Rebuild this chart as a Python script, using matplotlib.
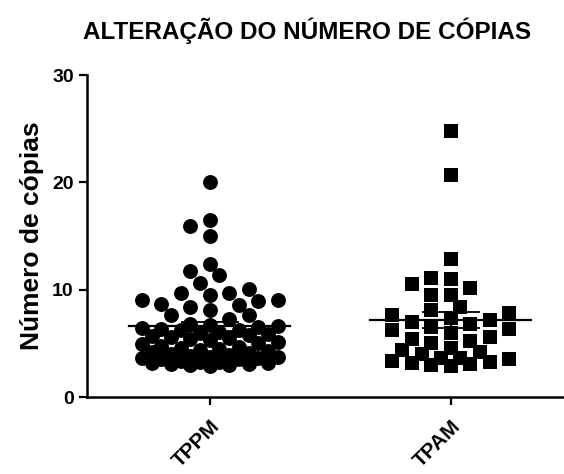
import matplotlib
matplotlib.use("Agg")
import matplotlib.pyplot as plt
import numpy as np

plt.rcParams['font.family'] = ['Liberation Sans', 'DejaVu Sans']
plt.rcParams['font.weight'] = 'bold'

groups = ["TPPM", "TPAM"]

# valores (número de cópias)
tppm = [20.0, 16.5, 15.9, 15.0, 12.4, 11.7, 11.4, 10.6, 10.1, 9.7, 9.7, 9.5,
        9.0, 9.0, 8.9, 8.7, 8.6, 8.4, 8.1, 7.6, 7.6, 7.3, 6.6, 6.4, 5.3,
        6.0, 6.1, 6.2, 6.2, 6.3, 6.5, 6.7, 6.8,
        5.4, 5.5, 5.6, 5.7, 5.8, 5.9,
        4.6, 4.7, 4.8, 4.9, 5.0, 5.1,
        3.9, 4.0, 4.1, 4.2, 4.3, 4.4, 4.5,
        3.4, 3.5, 3.5, 3.6, 3.6, 3.7, 3.7, 3.8,
        2.9, 3.0, 3.0, 3.1, 3.1, 3.2, 3.2, 3.3, 3.3]
tpam = [24.8, 20.7, 12.85, 11.1, 10.95, 10.5, 10.2, 9.55, 9.5, 8.4, 8.1,
        7.8, 7.6, 7.4, 7.2, 7.0, 6.8,
        6.5, 6.3, 6.2, 6.0,
        5.6, 5.4, 5.2, 5.0,
        4.6, 4.4, 4.2, 4.0,
        3.6, 3.6, 3.5, 3.4, 3.3, 3.2, 3.1, 3.0, 2.9]

PX_Y = 10.74      # pixels por unidade no eixo y
PX_X = 242.0      # pixels entre as duas colunas


def column_scatter(values, center, diam=14.5, step=9.75, kmax=7):
    # espalha os pontos lado a lado (estilo GraphPad); quando a coluna
    # fica cheia, os pontos se sobrepõem
    v = np.sort(np.asarray(values, dtype=float))
    cand = np.array(sorted(range(-kmax, kmax + 1), key=lambda k: (abs(k), k))) * step
    px, py = [], []
    for val in v:
        y = val * PX_Y
        best, best_d = None, -1
        for c in cand:
            if px:
                d = np.min(np.hypot(np.array(px) - c, np.array(py) - y))
            else:
                d = np.inf
            if d >= diam:
                best = c
                break
            if d > best_d + 0.5:
                best, best_d = c, d
        px.append(best)
        py.append(y)
    return center + np.array(px) / PX_X, v


fig = plt.figure(figsize=(5.64, 4.74), dpi=100)
ax = fig.add_axes([0.154, 0.1624, 0.846, 0.6793])

for i, (data, mk, ms) in enumerate([(tppm, "o", 115), (tpam, "s", 100)]):
    xs, ys = column_scatter(data, i)
    ax.scatter(xs, ys, marker=mk, s=ms, color="black", linewidths=0, zorder=2)
    m = np.mean(data)
    sem = np.std(data, ddof=1) / np.sqrt(len(data))
    ax.plot([i - 0.335, i + 0.335], [m, m], color="black", lw=1.6, zorder=3)
    ax.errorbar(i, m, yerr=sem, fmt="none", ecolor="black", elinewidth=1.3,
                capsize=21, capthick=1.3, zorder=3)

ax.set_xlim(-0.51, 1.47)
ax.set_ylim(0, 30)
ax.set_yticks([0, 10, 20, 30])
ax.set_xticks([0, 1])
ax.set_xticklabels(groups, rotation=45, ha="right", va="top",
                   rotation_mode="anchor", fontsize=15, fontweight="bold")
ax.tick_params(axis="y", labelsize=14, width=1.6, length=6)
ax.tick_params(axis="x", width=1.6, length=6, pad=8)
for lab in ax.get_yticklabels():
    lab.set_fontweight("bold")
for s in ["top", "right"]:
    ax.spines[s].set_visible(False)
for s in ["left", "bottom"]:
    ax.spines[s].set_linewidth(1.8)

ax.set_ylabel("Número de cópias", fontsize=19, fontweight="bold", labelpad=6)
fig.text(0.545, 0.935, "ALTERAÇÃO DO NÚMERO DE CÓPIAS", ha="center",
         va="center", fontsize=17.5, fontweight="bold")

fig.savefig("out.png", dpi=100)
